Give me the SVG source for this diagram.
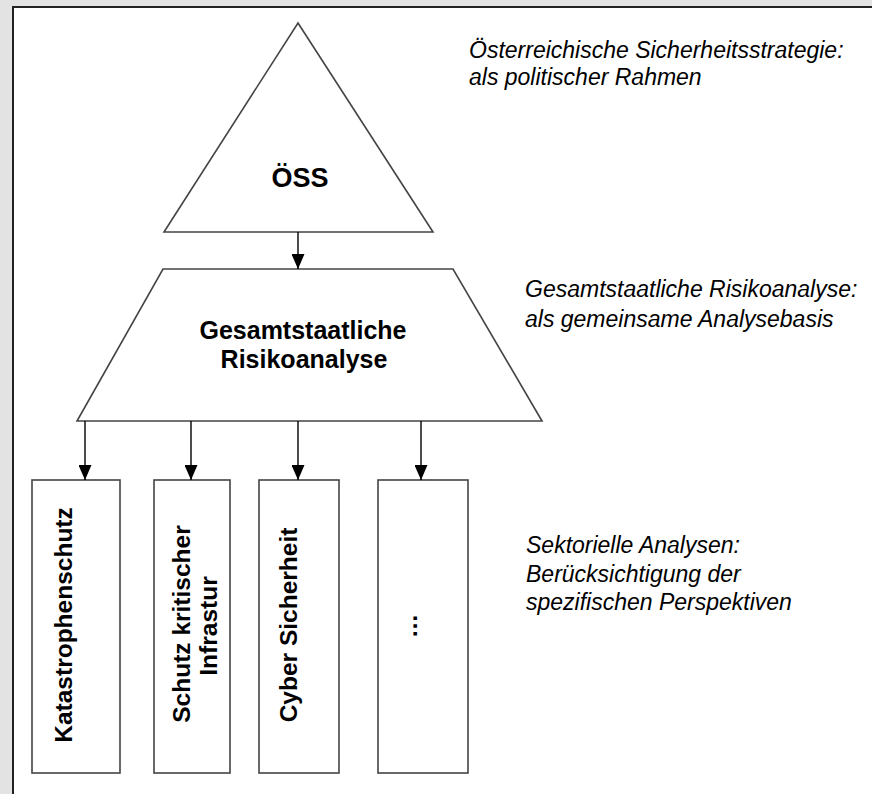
<svg xmlns="http://www.w3.org/2000/svg" width="872" height="794" viewBox="0 0 872 794">
<defs>
<marker id="arr" markerWidth="15" markerHeight="13" refX="15" refY="6.5" orient="auto" markerUnits="userSpaceOnUse" viewBox="0 0 15 13">
<path d="M0,0 L15,6.5 L0,13 Z" fill="#000"/>
</marker>
</defs>
<style>
.shape{fill:#fff;stroke:#444;stroke-width:1.6}
.conn{stroke:#000;stroke-width:1.4;fill:none;marker-end:url(#arr)}
.lbl{font-family:"Liberation Sans",Arial,sans-serif;font-weight:bold;fill:#000}
.note{font-family:"Liberation Sans",Arial,sans-serif;font-style:italic;font-size:23px;fill:#000}
</style>
<rect x="0" y="0" width="872" height="794" fill="#e3e3e3"/>
<rect x="13" y="7" width="870" height="800" fill="#fff" stroke="#222" stroke-width="2"/>

<g id="oess">
<polygon class="shape" points="298,23 433,232 164,232"/>
<text class="lbl" x="300" y="187" font-size="27" text-anchor="middle">ÖSS</text>
</g>

<g id="risikoanalyse">
<polygon class="shape" points="163,269 453,269 542,421 77,421"/>
<text class="lbl" x="303" y="339" font-size="25" text-anchor="middle">Gesamtstaatliche</text>
<text class="lbl" x="304" y="368" font-size="25" text-anchor="middle">Risikoanalyse</text>
</g>

<g id="katastrophenschutz">
<rect class="shape" x="32" y="480" width="88" height="293"/>
<text class="lbl" font-size="24.5" text-anchor="middle" transform="translate(72,625) rotate(-90)">Katastrophenschutz</text>
</g>

<g id="skinfrastruktur">
<rect class="shape" x="154" y="480" width="76" height="293"/>
<text class="lbl" font-size="24.5" text-anchor="middle" transform="translate(190,624) rotate(-90)">Schutz kritischer</text>
<text class="lbl" font-size="24.5" text-anchor="middle" transform="translate(217,626) rotate(-90)">Infrastur</text>
</g>

<g id="cyber">
<rect class="shape" x="259" y="480" width="80" height="293"/>
<text class="lbl" font-size="24.5" text-anchor="middle" transform="translate(297,625) rotate(-90)">Cyber Sicherheit</text>
</g>

<g id="weitere">
<rect class="shape" x="378" y="480" width="90" height="293"/>
<text class="lbl" font-size="24.5" text-anchor="middle" transform="translate(417,626) rotate(-90)">…</text>
</g>

<g id="connectors">
<line class="conn" x1="298" y1="232" x2="298" y2="269"/>
<line class="conn" x1="85" y1="421" x2="85" y2="480"/>
<line class="conn" x1="191" y1="421" x2="191" y2="480"/>
<line class="conn" x1="298" y1="421" x2="298" y2="480"/>
<line class="conn" x1="421" y1="421" x2="421" y2="480"/>
</g>

<g id="notes">
<text class="note" x="469" y="58">Österreichische Sicherheitsstrategie:</text>
<text class="note" x="469" y="85">als politischer Rahmen</text>
<text class="note" x="525" y="297">Gesamtstaatliche Risikoanalyse:</text>
<text class="note" x="525" y="327">als gemeinsame Analysebasis</text>
<text class="note" x="526" y="553">Sektorielle Analysen:</text>
<text class="note" x="526" y="582">Berücksichtigung der</text>
<text class="note" x="526" y="610">spezifischen Perspektiven</text>
</g>
</svg>
